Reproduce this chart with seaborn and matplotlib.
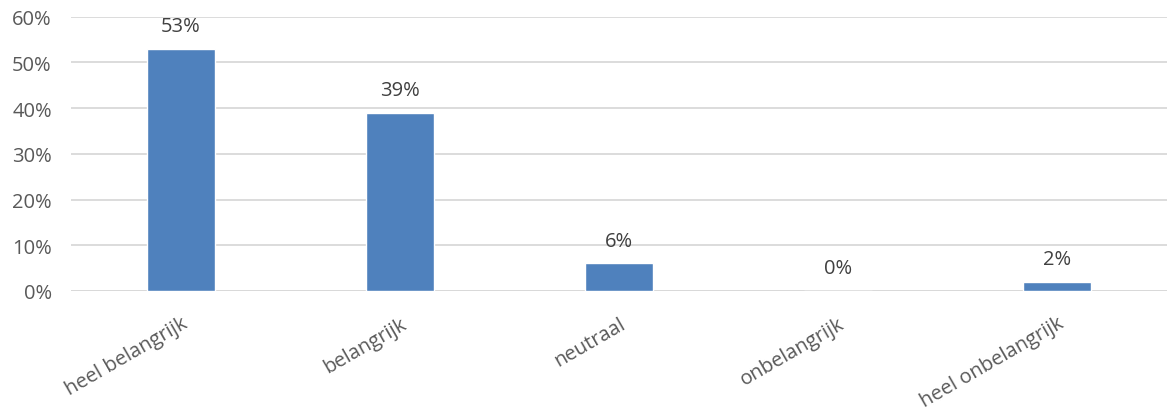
import pandas as pd
import matplotlib
matplotlib.use('Agg')
import matplotlib.pyplot as plt
import matplotlib.ticker as mticker
import seaborn as sns

# ── DATA ───────────────────────────────────────────────────────────────────
categories = ['heel belangrijk', 'belangrijk', 'neutraal', 'onbelangrijk', 'heel onbelangrijk']
shares = [53, 39, 6, 0, 2]

df = pd.DataFrame({'Categorie': categories, 'Aandeel': shares})

# ── STYLE ──────────────────────────────────────────────────────────────────
sns.set_theme(style='white')
plt.rcParams['font.family'] = ['Open Sans', 'DejaVu Sans']
TEXT = '#595959'
BAR = '#4F81BD'
GRID = '#D9D9D9'

fig = plt.figure(figsize=(11.68, 4.14), dpi=100)
ax = fig.add_axes([0.061, 0.295, 0.938, 0.662])

sns.barplot(data=df, x='Categorie', y='Aandeel', color=BAR, width=0.31,
            saturation=1, ax=ax, zorder=3)

for i, v in enumerate(shares):
    ax.annotate(f'{v}%', (i, v), textcoords='offset points', xytext=(0, 9),
                ha='center', va='bottom', fontsize=14.5, color='#404040')

ax.set_ylim(0, 60)
ax.set_yticks(range(0, 61, 10))
ax.yaxis.set_major_formatter(mticker.FuncFormatter(lambda x, _: f'{x:.0f}%'))
ax.grid(axis='y', color=GRID, linewidth=1.3, zorder=0)
ax.set_axisbelow(True)
for s in ax.spines.values():
    s.set_visible(False)
ax.axhline(0, color=GRID, linewidth=1.3, zorder=2)

ax.set_xlabel('')
ax.set_ylabel('')
ax.tick_params(axis='y', length=0, labelsize=14.5, labelcolor=TEXT, pad=14)
ax.tick_params(axis='x', length=0, labelsize=14.5, labelcolor=TEXT, pad=16)
plt.setp(ax.get_xticklabels(), rotation=30, ha='right', rotation_mode='anchor')

fig.savefig('out.png', dpi=100)
plt.close(fig)
